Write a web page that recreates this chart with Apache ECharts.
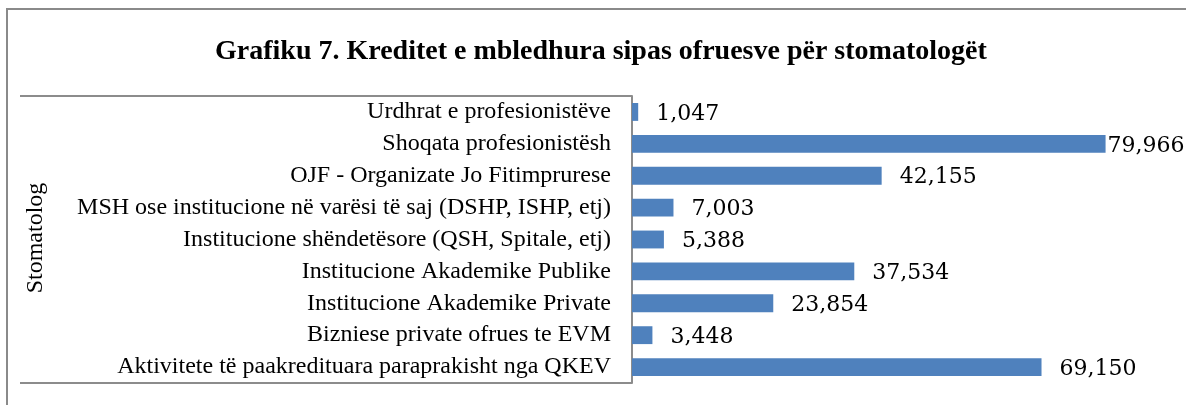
<!DOCTYPE html>
<html>
<head>
<meta charset="utf-8">
<script src="https://cdn.jsdelivr.net/npm/echarts@6/dist/echarts.min.js"></script>
<style>
  html, body { margin: 0; padding: 0; background: #fff; }
  #main { width: 1186px; height: 405px; }
</style>
</head>
<body>
<div id="main"></div>
<script>
// kategorite (nga lart poshte)
var categories = [
    'Urdhrat e profesionistëve',
    'Shoqata profesionistësh',
    'OJF - Organizate Jo Fitimprurese',
    'MSH ose institucione në varësi të saj (DSHP, ISHP, etj)',
    'Institucione shëndetësore (QSH, Spitale, etj)',
    'Institucione Akademike Publike',
    'Institucione Akademike Private',
    'Bizniese private ofrues te EVM',
    'Aktivitete të paakredituara paraprakisht nga QKEV'
];
var values = [1047, 79966, 42155, 7003, 5388, 37534, 23854, 3448, 69150];
var groupName = 'Stomatolog';
var titleText = 'Grafiku 7. Kreditet e mbledhura sipas ofruesve për stomatologët';

var myChart = echarts.init(document.getElementById('main'));

var maxVal = Math.max.apply(null, values);
var seriesData = values.map(function (v) {
    // etiketa e vleres me te madhe shtyhet majtas si ne Excel
    if (v === maxVal) {
        return { value: v, label: { distance: 2 } };
    }
    return v;
});

var lineColor = '#8c8c8c';

myChart.setOption({
    animation: false,
    title: {
        text: titleText,
        left: 210,
        top: 33,
        textStyle: {
            fontFamily: 'Liberation Serif',
            fontWeight: 'bold',
            fontSize: 28,
            color: '#000'
        }
    },
    grid: {
        left: 632,
        right: 21,
        top: 96,
        bottom: 22
    },
    xAxis: {
        type: 'value',
        min: 0,
        max: 90000,
        show: false
    },
    yAxis: {
        type: 'category',
        inverse: true,
        data: categories,
        axisTick: { show: false },
        axisLine: { lineStyle: { color: lineColor, width: 2 } },
        axisLabel: {
            margin: 21,
            fontFamily: 'Liberation Serif',
            fontSize: 24,
            color: '#000'
        }
    },
    series: [{
        type: 'bar',
        data: seriesData,
        barCategoryGap: '44%',
        itemStyle: { color: '#4f81bd' },
        label: {
            show: true,
            position: 'right',
            distance: 18,
            offset: [0, 2],
            fontFamily: 'DejaVu Serif',
            fontSize: 22,
            color: '#000',
            formatter: function (p) {
                return p.value.toLocaleString('en-US');
            }
        }
    }],
    graphic: [
        // korniza e grafikut
        {
            type: 'rect',
            shape: { x: 7, y: 9, width: 1240, height: 500 },
            style: { fill: 'none', stroke: '#8a8a8a', lineWidth: 2 }
        },
        // kllapa e grupit
        {
            type: 'line',
            shape: { x1: 20, y1: 96, x2: 632, y2: 96 },
            style: { stroke: lineColor, lineWidth: 2 }
        },
        {
            type: 'line',
            shape: { x1: 20, y1: 383, x2: 632, y2: 383 },
            style: { stroke: lineColor, lineWidth: 2 }
        },
        {
            type: 'text',
            x: 36,
            y: 238,
            rotation: Math.PI / 2,
            style: {
                text: groupName,
                fontFamily: 'Liberation Serif',
                fontSize: 24,
                fill: '#000',
                align: 'center',
                verticalAlign: 'middle'
            }
        }
    ]
});
</script>
</body>
</html>
